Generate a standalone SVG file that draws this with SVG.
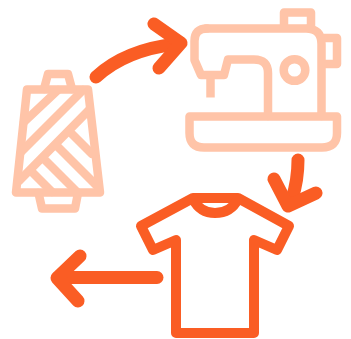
<svg xmlns="http://www.w3.org/2000/svg" width="351" height="339" viewBox="0 0 351 339">
<style>
.l{fill:none;stroke:#ffc4a8;stroke-width:8.500;stroke-linejoin:round;stroke-linecap:round}
.n{fill:none;stroke:#ffc4a8;stroke-width:8.500;stroke-linecap:butt}
.b{fill:none;stroke:#fa5d24;stroke-width:13;stroke-linejoin:round;stroke-linecap:round}
.s{fill:none;stroke:#fa5d24;stroke-width:10;stroke-linejoin:round;stroke-linecap:round}
</style>
<g id="spool">
<path class="l" d="M27 89.500H88L100 192.500H16Z"/>
<path class="l" d="M44 89L48 74H68L72 89"/>
<path class="l" d="M38.500 193L42 208.500H75L78 193"/>
<path class="l" d="M58 90L24 122M83 90L21 152M89 110L19 181M72 134L92 154M58 147L98 187M45 160L77 192M33 173L52 192"/>
</g>
<g id="machine">
<path class="l" d="M206 28.500H306Q321.500 28.500 321.500 44V116M321.500 38H337V64H321.500M284 28V12.500H311V28"/>
<path class="l" d="M207 28.500Q194.500 28.500 194.500 41V60L201 75H224L228 59.500H254Q268 59.500 268 73V116"/>
<path class="n" d="M210.500 75V97.500"/>
<circle class="l" cx="294.500" cy="70" r="10.800"/>
<path class="l" d="M189.500 116.500H337V133Q337 147.500 322 147.500H204Q189.500 147.500 189.500 133Z"/>
</g>
<g id="shirt">
<path class="s" d="M193 198H238L289 226L277 250L254 240V333H176V240L153 250L141 226Z"/>
<path class="s" d="M193 199Q200 213 215 213Q231 213 238 199"/>
</g>
<g id="connectors">
<path class="b" d="M96 77Q125 50 176 44"/>
<path class="b" d="M154 24L181 43L159 68"/>
<path class="b" d="M298 160Q298 180 292 199"/>
<path class="b" d="M274 179L288 206L316 193"/>
<path class="b" d="M157 277.500H58"/>
<path class="b" d="M80 256L57 278L78 301"/>
</g>
</svg>
